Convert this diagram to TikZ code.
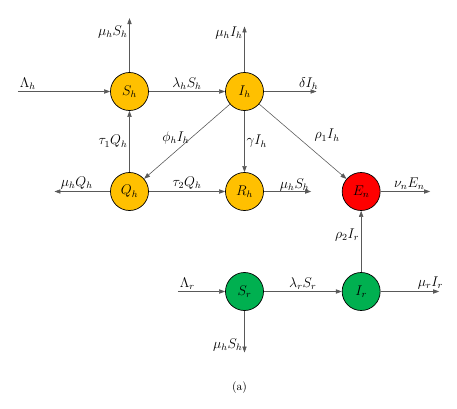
\documentclass[tikz,border=0pt]{standalone}
\usepackage{tikz}
\usetikzlibrary{arrows.meta, positioning}
\usepackage{xcolor}
\definecolor{human}{HTML}{FFC000}
\definecolor{env}{HTML}{FF0000}
\definecolor{rodent}{HTML}{00B050}
\tikzset{
    compartment/.style={
        circle, minimum size=11.4mm, inner sep=0pt,
        draw=black, line width=0.6pt, font=\large
    },
    hostnode/.style={
        fill=human
    },
    envnode/.style={
        fill=env
    },
    rodentnode/.style={
        fill=rodent
    },
    arrow/.style={
        -{Triangle[length=1.8mm,width=1.3mm]}, line width=0.5pt, draw=black!65
    },
    rate/.style={
        font=\large, inner sep=1.5pt
    }
}

\begin{document}
\begin{tikzpicture}[on grid, node distance=30mm and 35mm]

    \useasboundingbox (-38.85mm,27.45mm) rectangle (98.25mm,-95.25mm);

    \node[compartment, hostnode]                     (Sh) at (0,0) {$S_h$};
    \node[compartment, hostnode, right=34.5mm of Sh] (Ih) {$I_h$};
    \node[compartment, hostnode, below=30mm of Sh]   (Qh) {$Q_h$};
    \node[compartment, hostnode, below=of Ih]        (Rh) {$R_h$};
    \node[compartment, envnode, right=of Rh]         (En) {$E_n$};
    \node[compartment, rodentnode, below=of Rh]      (Sr) {$S_r$};
    \node[compartment, rodentnode, right=of Sr]      (Ir) {$I_r$};

    % free ends of the in- and outflows
    \coordinate[left=33.5mm of Sh]  (lamh);
    \coordinate[above=22mm of Sh]   (shout);
    \coordinate[above=19.5mm of Ih] (ihout);
    \coordinate[right=21.6mm of Ih] (ihdel);
    \coordinate[left=22.5mm of Qh]  (qhout);
    \coordinate[right=20mm of Rh]   (rhout);
    \coordinate[right=20.7mm of En] (enout);
    \coordinate[left=20mm of Sr]    (lamr);
    \coordinate[below=18.3mm of Sr] (srout);
    \coordinate[right=23.4mm of Ir] (irout);

    % human compartments
    \draw[arrow] (lamh) -- node[rate, pos=0, above right] {$\Lambda_h$} (Sh);
    \draw[arrow] (Sh) -- node[rate, pos=0.75, left] {$\mu_h S_h$} (shout);
    \draw[arrow] (Sh) -- node[rate, midway, above] {$\lambda_h S_h$} (Ih);
    \draw[arrow] (Ih) -- node[rate, pos=0.85, left] {$\mu_h I_h$} (ihout);
    \draw[arrow] (Ih) -- node[rate, pos=0.85, above] {$\delta I_h$} (ihdel);
    \draw[arrow] (Ih) -- node[rate, pos=0.45, left] {$\phi_h I_h$} (Qh);
    \draw[arrow] (Ih) -- node[rate, midway, right] {$\gamma I_h$} (Rh);
    \draw[arrow] (Ih) -- node[rate, pos=0.42, right=5mm] {$\rho_1 I_h$} (En);
    \draw[arrow] (Qh) -- node[rate, midway, left] {$\tau_1 Q_h$} (Sh);
    \draw[arrow] (Qh) -- node[rate, pos=0.6, above] {$\mu_h Q_h$} (qhout);
    \draw[arrow] (Qh) -- node[rate, midway, above] {$\tau_2 Q_h$} (Rh);
    \draw[arrow] (Rh) -- node[rate, pos=0.65, above, inner sep=0pt] {$\mu_h S_h$} (rhout);

    % environment
    \draw[arrow] (En) -- node[rate, pos=0.58, above] {$\nu_n E_n$} (enout);

    % rodent compartments
    \draw[arrow] (lamr) -- node[rate, pos=0, above right] {$\Lambda_r$} (Sr);
    \draw[arrow] (Sr) -- node[rate, midway, above] {$\lambda_r S_r$} (Ir);
    \draw[arrow] (Sr) -- node[rate, pos=0.83, left] {$\mu_h S_h$} (srout);
    \draw[arrow] (Ir) -- node[rate, pos=0.6, left] {$\rho_2 I_r$} (En);
    \draw[arrow] (Ir) -- node[rate, pos=0.85, above] {$\mu_r I_r$} (irout);

    \node[below=28.8mm of Sr, xshift=-1.5mm] (caption) {(a)};

\end{tikzpicture}
\end{document}
